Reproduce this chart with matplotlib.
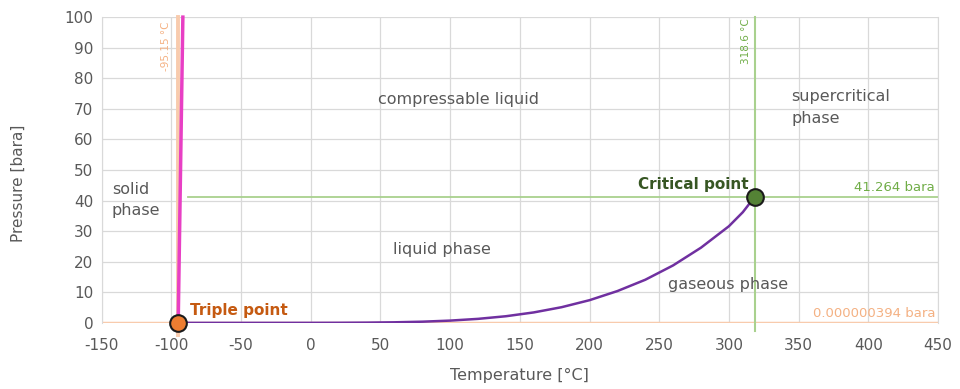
import matplotlib
matplotlib.use("Agg")
import matplotlib.pyplot as plt

plt.rcParams['font.family'] = ['DejaVu Sans']
plt.rcParams['axes.unicode_minus'] = False

# Data
triple_T = -95.15
triple_P = 0.000000394
critical_T = 318.6
critical_P = 41.264

vap_T = [-95.15, -75, -50, -25, 0, 20, 40, 60, 80, 100, 120, 140, 160, 180, 200,
         220, 240, 260, 280, 300, 310, 318.6]
vap_P = [0.0, 0.00002, 0.0002, 0.0015, 0.0089, 0.029, 0.079, 0.185, 0.387, 0.742,
         1.31, 2.17, 3.42, 5.13, 7.42, 10.4, 14.1, 18.8, 24.6, 31.6, 36.2, 41.264]

melt_T = [-95.15, -91.8]
melt_P = [0.0, 100.0]

x_ticks = [-150, -100, -50, 0, 50, 100, 150, 200, 250, 300, 350, 400, 450]
y_ticks = [0, 10, 20, 30, 40, 50, 60, 70, 80, 90, 100]

gray = '#595959'
grid = '#d9d9d9'

fig = plt.figure(figsize=(9.6, 3.89), dpi=100)
ax = fig.add_axes([0.106, 0.170, 0.871, 0.786])
ax.set_xlim(-150, 450)
ax.set_ylim(0, 100)
ax.set_xticks(x_ticks)
ax.set_yticks(y_ticks)
ax.grid(True, color=grid, lw=0.9)
ax.set_axisbelow(True)
for s in ['top', 'bottom']:
    ax.spines[s].set_visible(False)
for s in ['left', 'right']:
    ax.spines[s].set_color(grid)
ax.tick_params(length=0, labelsize=11, colors=gray)
ax.tick_params(axis='x', pad=11)
ax.tick_params(axis='y', pad=6)
ax.set_xlabel('Temperature [°C]', fontsize=11.5, color=gray, labelpad=11)
ax.set_ylabel('Pressure [bara]', fontsize=11, color=gray)
ax.yaxis.set_label_coords(-0.091, 0.457)

# reference lines
ax.axhline(triple_P, color='#f8cbad', lw=2.5, zorder=2)
ax.plot([triple_T, triple_T], [-4, 100], color='#f8cbad', lw=2.8, zorder=2, clip_on=False)
ax.plot([-88, 450], [critical_P, critical_P], color='#a9d18e', lw=1.3, zorder=2)
ax.plot([critical_T, critical_T], [-2.5, 100], color='#a9d18e', lw=1.5, zorder=2, clip_on=False)

# curves
ax.plot(melt_T, melt_P, color='#e83fc4', lw=2.5, zorder=3, clip_on=False)
ax.plot(vap_T, vap_P, color='#7030a0', lw=1.8, zorder=3)

# points
ax.plot([triple_T], [triple_P], 'o', ms=12, mfc='#ed7d31', mec='#1a1a1a', mew=1.5, zorder=5, clip_on=False)
ax.plot([critical_T], [critical_P], 'o', ms=12, mfc='#548235', mec='#1a1a1a', mew=1.5, zorder=5)

# labels
ax.text(-87, 4.2, 'Triple point', color='#c55a11', fontsize=11, fontweight='bold', ha='left', va='center')
ax.text(314, 45.3, 'Critical point', color='#375623', fontsize=11, fontweight='bold', ha='right', va='center')
ax.text(448, 42.3, '41.264 bara', color='#70ad47', fontsize=9.5, ha='right', va='bottom')
ax.text(448, 1.0, '0.000000394 bara', color='#f4b183', fontsize=9.5, ha='right', va='bottom')
ax.text(-104, 98.5, f'{triple_T} °C', color='#f4b183', fontsize=7.5, rotation=90, ha='center', va='top')
ax.text(312.5, 99.5, f'{critical_T} °C', color='#70ad47', fontsize=7.5, rotation=90, ha='center', va='top')

ax.text(-142.8, 43.5, 'solid', color=gray, fontsize=11.5, ha='left', va='center')
ax.text(-142.8, 36.6, 'phase', color=gray, fontsize=11.5, ha='left', va='center')
ax.text(48, 72.9, 'compressable liquid', color=gray, fontsize=11.5, ha='left', va='center')
ax.text(345, 73.9, 'supercritical', color=gray, fontsize=11.5, ha='left', va='center')
ax.text(345, 67.0, 'phase', color=gray, fontsize=11.5, ha='left', va='center')
ax.text(59, 23.9, 'liquid phase', color=gray, fontsize=11.5, ha='left', va='center')
ax.text(256, 12.7, 'gaseous phase', color=gray, fontsize=11.5, ha='left', va='center')

fig.savefig('out.png', dpi=100)
